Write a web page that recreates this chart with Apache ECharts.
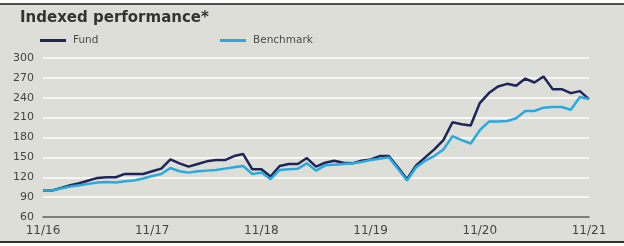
<!DOCTYPE html>
<html>
<head>
<meta charset="utf-8">
<script src="https://cdn.jsdelivr.net/npm/echarts@6/dist/echarts.min.js"></script>
<style>
  html, body { margin: 0; padding: 0; background: #fff; }
  #main { width: 624px; height: 246px; }
</style>
</head>
<body>
<div id="main"></div>
<script>
// monthly index values, 11/16 .. 11/21 (start = 100)
var fund = [
    100, 100, 104, 108, 111, 115, 119, 120, 120, 125,
    125, 125, 129, 133, 147, 141, 136, 140, 144, 146,
    146, 152, 155, 132, 132, 121, 137, 140, 140, 149,
    136, 142, 145, 142, 141, 145, 147, 152, 152, 135,
    117, 138, 150, 162, 176, 203, 200, 198, 232, 247,
    257, 261, 258, 269, 263, 272, 253, 253, 247, 250,
    238
];
var benchmark = [
    100, 100, 103, 106, 108, 110, 112, 113, 112, 114,
    115, 118, 122, 125, 134, 129, 127, 129, 130, 131,
    133, 135, 137, 125, 127, 117, 131, 132, 133, 141,
    130, 138, 139, 140, 141, 143, 146, 148, 150, 133,
    115, 135, 145, 152, 162, 182, 176, 171, 191, 204,
    204, 205, 209, 220, 220, 225, 226, 226, 222, 241,
    238
];
var tickLabels = ['11/16', '11/17', '11/18', '11/19', '11/20', '11/21'];

// one category per month, labelled only at each November
var months = [];
for (var i = 0; i < fund.length; i++) {
    months.push(i % 12 == 0 ? tickLabels[i / 12] : 'm' + i);
}

var chart = echarts.init(document.getElementById('main'));

var font = 'DejaVu Sans';
var option = {
    animation: false,
    backgroundColor: '#fff',
    textStyle: { fontFamily: font },
    graphic: [
        {
            type: 'rect', z: -10, silent: true,
            shape: { x: 0, y: 4, width: 624, height: 238 },
            style: { fill: '#deded9', stroke: null }
        },
        {
            type: 'rect', z: -9, silent: true,
            shape: { x: 0, y: 3, width: 624, height: 2 },
            style: { fill: '#505050' }
        },
        {
            type: 'rect', z: -9, silent: true,
            shape: { x: 0, y: 241, width: 624, height: 2 },
            style: { fill: '#303030' }
        }
    ],
    title: {
        text: 'Indexed performance*',
        left: 15, top: 6,
        textStyle: { fontFamily: font, fontSize: 15, fontWeight: 'bold', color: '#333' }
    },
    legend: [
        {
            data: ['Fund'], left: 40, top: 35, padding: 0,
            icon: 'rect', itemWidth: 26, itemHeight: 3, itemGap: 0,
            textStyle: { fontFamily: font, fontSize: 10.5, color: '#4a4a4a', padding: [0, 0, 0, 2] }
        },
        {
            data: ['Benchmark'], left: 220, top: 35, padding: 0,
            icon: 'rect', itemWidth: 26, itemHeight: 3, itemGap: 0,
            textStyle: { fontFamily: font, fontSize: 10.5, color: '#4a4a4a', padding: [0, 0, 0, 2] }
        }
    ],
    grid: { left: 43, right: 35, top: 58, bottom: 29 },
    xAxis: {
        type: 'category',
        data: months,
        boundaryGap: false,
        axisLine: { lineStyle: { color: '#555', width: 1.5 } },
        axisTick: { show: false },
        axisLabel: {
            interval: function (idx) { return idx % 12 == 0; },
            color: '#444', fontSize: 12, fontFamily: font, margin: 8
        },
        splitLine: { show: false }
    },
    yAxis: {
        type: 'value',
        min: 60, max: 300, interval: 30,
        axisLine: { show: false },
        axisTick: { show: false },
        axisLabel: { color: '#444', fontSize: 11, fontFamily: font, margin: 9 },
        splitLine: { lineStyle: { color: '#ffffff', width: 1.5 } }
    },
    series: [
        {
            name: 'Fund', type: 'line', data: fund,
            symbol: 'none', color: '#1f2558',
            lineStyle: { width: 2.5, color: '#1f2558' }
        },
        {
            name: 'Benchmark', type: 'line', data: benchmark,
            symbol: 'none', color: '#29a9dd',
            lineStyle: { width: 2.5, color: '#29a9dd' }
        }
    ]
};

chart.setOption(option);
</script>
</body>
</html>
